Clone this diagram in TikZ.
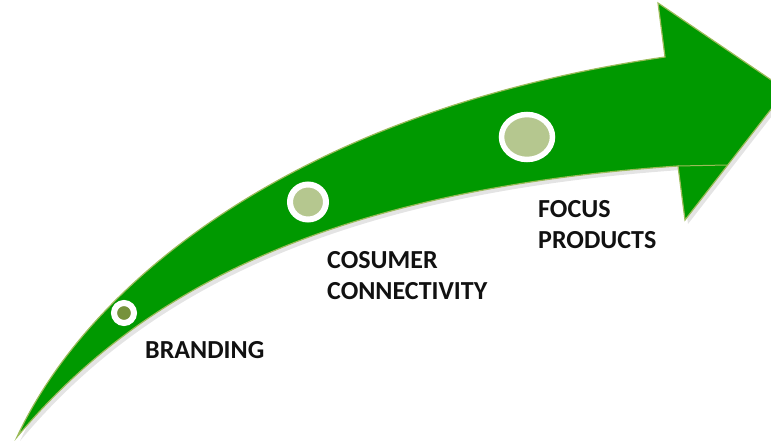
\documentclass[tikz,border=0pt]{standalone}
\usepackage{fontspec}
\setmainfont{Carlito}
\usetikzlibrary{shapes.geometric}
\definecolor{arrowgreen}{HTML}{009900}
\definecolor{edgegreen}{HTML}{9BBB59}
\definecolor{darkdot}{HTML}{76923C}
\definecolor{lightdot}{HTML}{B5C78F}
\definecolor{labeltext}{HTML}{111111}
\tikzset{
  dotring/.style={ellipse, draw=white, inner sep=0pt},
  steplabel/.style={anchor=base west, align=left, inner sep=0pt,
    font=\fontsize{26}{31}\selectfont\bfseries, text=labeltext},
}
\begin{document}
\begin{tikzpicture}[x=1pt,y=-1pt]
\useasboundingbox (0,0) rectangle (771,444);
% shadow
\fill[black!35,opacity=0.3] (20,441)
  .. controls (143,294) and (333,194) .. (681,170)
  -- (688,224) -- (789,94) -- (661,7) -- (668,61)
  .. controls (303,114) and (93,284) .. cycle;
% arrow
\filldraw[fill=arrowgreen, draw=edgegreen, line width=1.2pt, line join=miter]
  (17,437)
  .. controls (140,290) and (330,190) .. (678,166)
  -- (685,220) -- (786,90) -- (658,3) -- (665,57)
  .. controls (300,110) and (90,280) .. cycle;
\draw[edgegreen, line width=1pt] (678,166) -- (727,165);
% dots
\node[dotring, fill=darkdot, line width=6pt, minimum width=20pt, minimum height=20pt] (d1) at (124,313) {};
\node[dotring, fill=lightdot, line width=6pt, minimum width=36pt, minimum height=35pt] (d2) at (308,202) {};
\node[dotring, fill=lightdot, line width=5.5pt, minimum width=51pt, minimum height=45pt] (d3) at (527,137) {};
% labels
\node[steplabel] (l1) at (145,358) {BRANDING};
\node[steplabel] (l2) at (327,299) {COSUMER\\CONNECTIVITY};
\node[steplabel] (l3) at (538,248) {FOCUS\\PRODUCTS};
\end{tikzpicture}
\end{document}
